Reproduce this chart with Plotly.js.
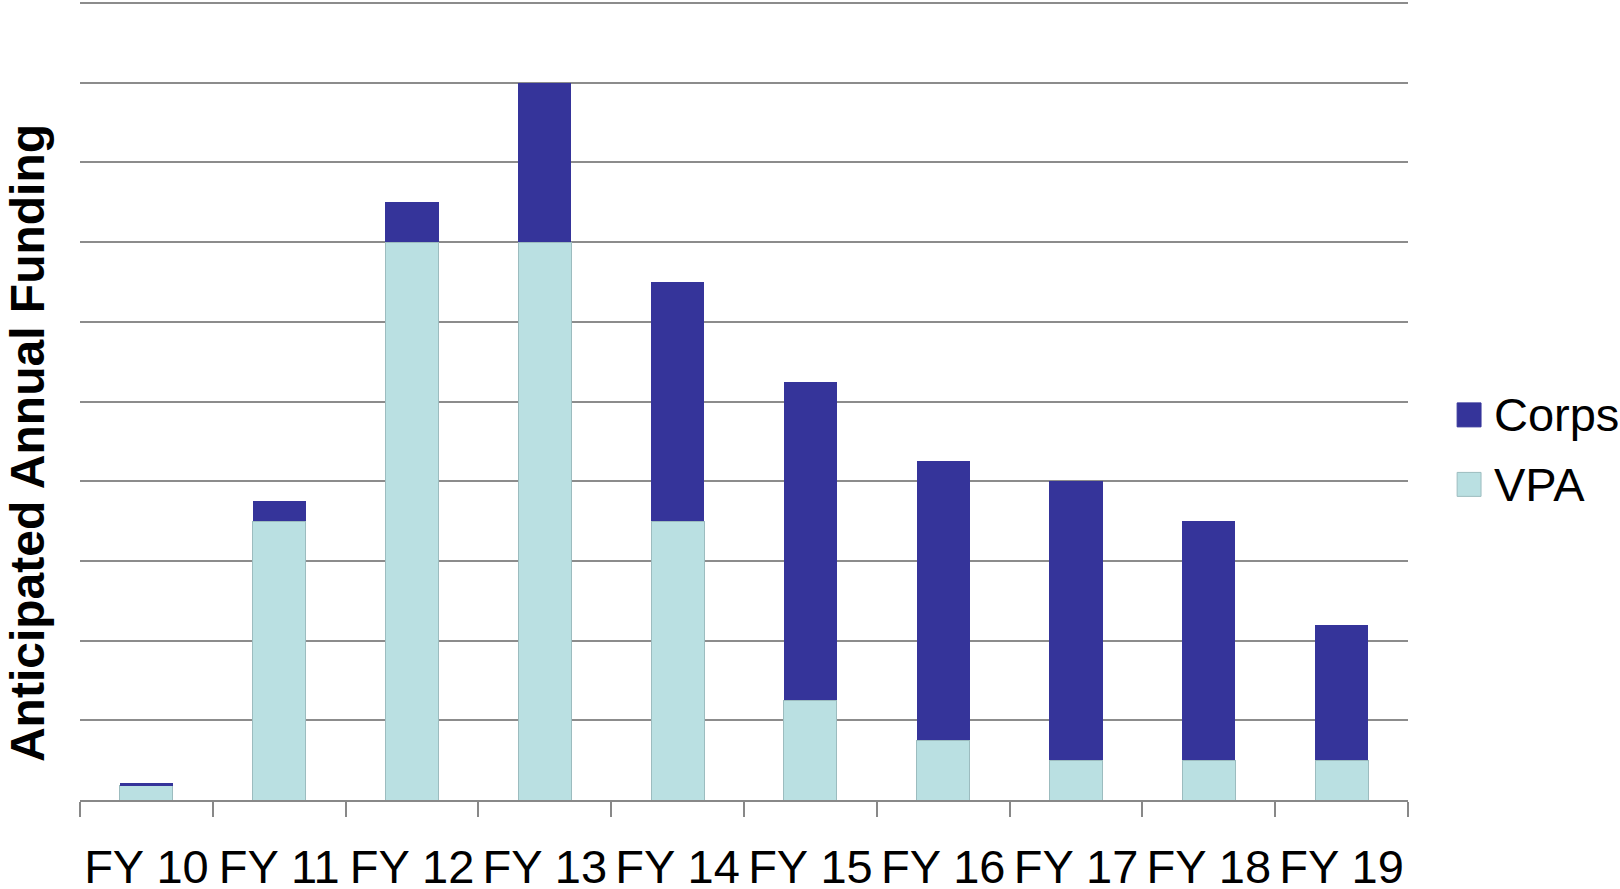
<!DOCTYPE html>
<html>
<head>
<meta charset="utf-8">
<script src="https://cdn.plot.ly/plotly-3.0.1.min.js"></script>
<style>html,body{margin:0;padding:0;background:#fff;}#chart{width:1620px;height:889px;}</style>
</head>
<body>
<div id="chart"></div>
<script>
const categories = ["FY 10","FY 11","FY 12","FY 13","FY 14","FY 15","FY 16","FY 17","FY 18","FY 19"];
const vpa   = [0.18, 3.5, 7.0, 7.0, 3.5, 1.25, 0.75, 0.5, 0.5, 0.5];
const corps = [0.03, 0.25, 0.5, 2.0, 3.0, 4.0, 3.5, 3.5, 3.0, 1.7];
const seriesNames = ["Corps","VPA"];
const colors = {Corps:"#35349a", VPA:"#bae0e2"};
const yTitle = "Anticipated Annual Funding";

const traces = [
  {type:"bar", name:"VPA", x:categories, y:vpa, width:0.4,
   marker:{color:colors.VPA, line:{color:"#9cbcbf", width:1}}, showlegend:false, hoverinfo:"x+y"},
  {type:"bar", name:"Corps", x:categories, y:corps, width:0.4,
   marker:{color:colors.Corps, line:{width:0}}, showlegend:false, hoverinfo:"x+y"}
];

const legendY = [0.482, 0.395];
const shapes = [];
const annotations = [];
seriesNames.forEach((n,i)=>{
  shapes.push({type:"rect", xref:"paper", yref:"paper",
    x0:1.037, x1:1.055, y0:legendY[i]-0.015, y1:legendY[i]+0.015,
    fillcolor:colors[n], line:{color: n==="VPA" ? "#9cbcbf" : colors[n], width:1}});
  annotations.push({xref:"paper", yref:"paper", x:1.063, y:legendY[i], xanchor:"left", yanchor:"middle",
    text:n, showarrow:false, font:{family:"Liberation Sans, Arial, sans-serif", size:47, color:"#000"}});
});
annotations.push({xref:"paper", yref:"paper", x:-0.039, y:0.447, xanchor:"center", yanchor:"middle",
  textangle:-90, text:"<b>"+yTitle+"</b>", showarrow:false,
  font:{family:"Liberation Sans, Arial, sans-serif", size:48, color:"#000"}});

const layout = {
  width:1620, height:889,
  margin:{l:80, r:212, t:1, b:89},
  barmode:"stack",
  bargap:0.6,
  paper_bgcolor:"#fff", plot_bgcolor:"#fff",
  font:{family:"Liberation Sans, Arial, sans-serif", color:"#000"},
  xaxis:{type:"category", tickson:"boundaries", ticks:"outside", ticklen:15, tickwidth:2, tickcolor:"#888",
    showline:true, linecolor:"#888", linewidth:2, showgrid:false, tickangle:0,
    tickfont:{size:47, color:"#000"}, ticklabelstandoff:25},
  yaxis:{range:[0,10.025], dtick:1, showticklabels:false, showgrid:true, gridcolor:"#8c8c8c", gridwidth:1.5,
    zeroline:false, showline:false, ticks:""},
  showlegend:false,
  shapes:shapes,
  annotations:annotations
};
Plotly.newPlot("chart", traces, layout, {displayModeBar:false});
</script>
</body>
</html>
